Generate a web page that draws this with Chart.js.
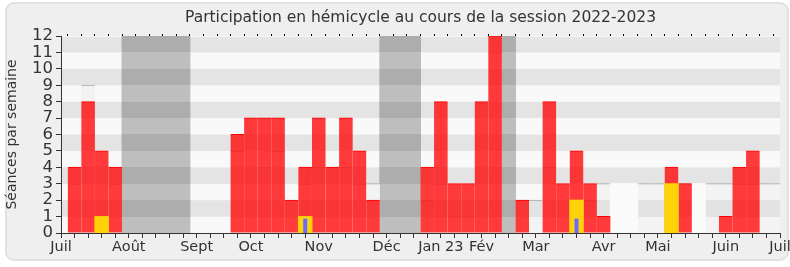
<!DOCTYPE html>
<html>
<head>
<meta charset="utf-8">
<script src="https://cdn.jsdelivr.net/npm/chart.js@4"></script>
<style>
  html, body { margin: 0; padding: 0; background: #fff; }
  #cadre {
    position: absolute; left: 5px; top: 2px; width: 780px; height: 255px;
    background: #efefef; border: 2px solid #e2e2e2; border-radius: 9px;
  }
  #boite { position: absolute; left: 0; top: 0; width: 790px; height: 267px; }
</style>
</head>
<body>
<div id="cadre"></div>
<div id="boite"><canvas id="graphe"></canvas></div>
<script>
// une valeur par semaine, de juillet 2022 à juillet 2023
const presences = [4,8,5,4, 0,0,0,0,0, 0,0,0, 6,7,7,7,2,4,7,4,7,5,2, 0,0,0, 4,8,3,3,8,12, 0, 2,0,8,3,5,3,1, 0,0,0,0, 4,3, 0,0, 1,4,5, 0,0];
const participations = [0,0,1,0, 0,0,0,0,0, 0,0,0, 0,0,0,0,0,1,0,0,0,0,0, 0,0,0, 0,0,0,0,0,0, 0, 0,0,0,0,2,0,0, 0,0,0,0, 3,0, 0,0, 0,0,0, 0,0];
const questions = [0,0,0,0, 0,0,0,0,0, 0,0,0, 0,0,0,0,0,0.85,0,0,0,0,0, 0,0,0, 0,0,0,0,0,0, 0, 0,0,0,0,0.85,0,0, 0,0,0,0, 0,0, 0,0, 0,0,0, 0,0];
const mediane = [3,9,0,3, 0,0,0,0,0, 0,0,0, 5,0,4,5,0,3,4,4,4,3,3, 0,0,0, 2,3,1,1,0,11, 0, 2,2,4,0,2,2,3, 0,0,3,3, 3,3, 2,3, 3,3,3, 3,3];
const maximum = [0,0,0,0, 0,0,0,0,0, 0,0,0, 0,0,0,0,0,0,0,0,0,0,0, 0,0,0, 0,0,0,0,0,0, 0, 0,0,0,0,0,0,0, 3,3,0,0, 0,0, 3,0, 0,0,0, 0,0];
const vacances = [0,0,0,0, 12,12,12,12,12, 0,0,0, 0,0,0,0,0,0,0,0,0,0,0, 12,12,12, 0,0,0,0,0,0, 12, 0,0,0,0,0,0,0, 0,0,0,0, 0,0, 0,0, 0,0,0, 0,0];

const moisPos = [0, 5, 10, 14, 19, 24, 28, 31, 35, 40, 44, 49, 53];
const moisLabels = ['Juil', 'Août', 'Sept', 'Oct', 'Nov', 'Déc', 'Jan 23', 'Fév', 'Mar', 'Avr', 'Mai', 'Juin', 'Juil'];

function points(serie) {
  return serie.map((v, k) => ({ x: k + 1, y: v > 0 ? v : null }));
}

// trait de la médiane visible à travers les barres rouges
function traitsSous(serie, dessus) {
  return serie.map((v, k) => ({ x: k + 1, y: (v > 0 && v < dessus[k]) ? v : null }));
}

// couleur qui suit les bandes (clair / foncé) sans transparence
const cacheDegrades = {};
function degrade(clair, fonce) {
  return (c) => {
    const chart = c.chart, y = chart.scales.y;
    if (!chart.chartArea || !y) return clair;
    const cle = clair + fonce + chart.chartArea.top + chart.chartArea.bottom;
    if (cacheDegrades[cle]) return cacheDegrades[cle];
    const g = chart.ctx.createLinearGradient(0, y.getPixelForValue(0), 0, y.getPixelForValue(12));
    for (let v = 0; v < 12; v++) {
      const col = (v % 2 == 0) ? clair : fonce;
      g.addColorStop(v / 12, col);
      g.addColorStop((v + 1) / 12, col);
    }
    cacheDegrades[cle] = g;
    return g;
  };
}

// bandes horizontales alternées derrière le graphe
const bandes = {
  id: 'bandes',
  beforeDraw(chart) {
    const ctx = chart.ctx, a = chart.chartArea, y = chart.scales.y;
    ctx.save();
    for (let v = 0; v < 12; v++) {
      ctx.fillStyle = (v % 2 == 0) ? '#f9f9f9' : '#e4e4e4';
      const y1 = y.getPixelForValue(v + 1), y0 = y.getPixelForValue(v);
      ctx.fillRect(a.left, y1, a.right - a.left, y0 - y1);
    }
    ctx.restore();
  }
};

Chart.defaults.font.family = 'DejaVu Sans';
Chart.defaults.font.size = 14;
Chart.defaults.color = '#333';

new Chart(document.getElementById('graphe'), {
  type: 'bar',
  data: {
    datasets: [
      { label: 'Questions orales', data: points(questions), backgroundColor: '#6b6bff', barPercentage: 0.22, order: 0 },
      { label: 'Participation', data: points(participations), backgroundColor: '#ffd20a', order: 1 },
      { label: 'Médiane (trait)', data: traitsSous(mediane, presences), backgroundColor: 'rgba(0,0,0,0)', inflateAmount: 0,
        borderColor: 'rgba(120,0,0,0.13)', borderWidth: { top: 1, left: 0, right: 0, bottom: 0 }, order: 2 },
      { label: 'Présences', data: points(presences), backgroundColor: degrade('#ff3a3a', '#f93535'),
        borderColor: '#ff0000', borderWidth: { top: 1, left: 0, right: 0, bottom: 0 }, order: 3 },
      { label: 'Maximum', data: points(maximum), backgroundColor: '#fafafa', order: 4 },
      { label: 'Médiane', data: points(mediane), backgroundColor: degrade('#f3f3f3', '#e3e3e3'),
        borderColor: '#a8a8a8', borderWidth: { top: 1, left: 0, right: 0, bottom: 0 }, order: 5 },
      { label: 'Vacances', data: points(vacances), backgroundColor: degrade('#bebebe', '#adadad'), order: 6 }
    ]
  },
  options: {
    responsive: true,
    maintainAspectRatio: false,
    animation: false,
    layout: { padding: { left: 0, right: 10, top: 0, bottom: 0 } },
    datasets: { bar: { grouped: false, barPercentage: 1, categoryPercentage: 1, inflateAmount: 0.5 } },
    plugins: {
      legend: { display: false },
      tooltip: { enabled: false },
      title: {
        display: true,
        text: 'Participation en hémicycle au cours de la session 2022-2023',
        font: { size: 15.5, weight: 'normal' },
        color: '#333',
        fullSize: false,
        padding: { top: 9, bottom: 6.4 }
      }
    },
    scales: {
      x: {
        type: 'linear', min: 0, max: 53, offset: false,
        grid: { drawOnChartArea: false, offset: false, tickLength: 5, tickColor: '#333' },
        border: { color: '#333', z: 1 },
        ticks: {
          stepSize: 1, autoSkip: false, maxRotation: 0, padding: 1, font: { size: 14.5 },
          callback: (v) => { const i = moisPos.indexOf(v); return i >= 0 ? moisLabels[i] : ''; }
        },
        afterFit: (s) => { s.height = 34; s.paddingLeft = 0; s.paddingRight = 0; }
      },
      x2: {
        type: 'linear', position: 'top', min: 0, max: 53, offset: false,
        grid: { drawOnChartArea: false, tickLength: 2, tickColor: '#000' },
        border: { color: '#f7f7f7' },
        ticks: { stepSize: 1, display: false, autoSkip: false },
        afterFit: (s) => { s.height = 2; }
      },
      y: {
        min: 0, max: 12,
        grid: { drawOnChartArea: false, tickLength: 5, tickColor: '#333' },
        border: { color: '#333', z: 1 },
        ticks: { stepSize: 1, padding: 3, autoSkip: false, font: { size: 16.5 } },
        title: { display: true, text: 'Séances par semaine', color: '#333', font: { size: 14 }, padding: { top: 4, bottom: 0 } },
        afterFit: (s) => { s.width = 61; s.paddingTop = 0; s.paddingBottom = 0; }
      }
    }
  },
  plugins: [bandes]
});
</script>
</body>
</html>
